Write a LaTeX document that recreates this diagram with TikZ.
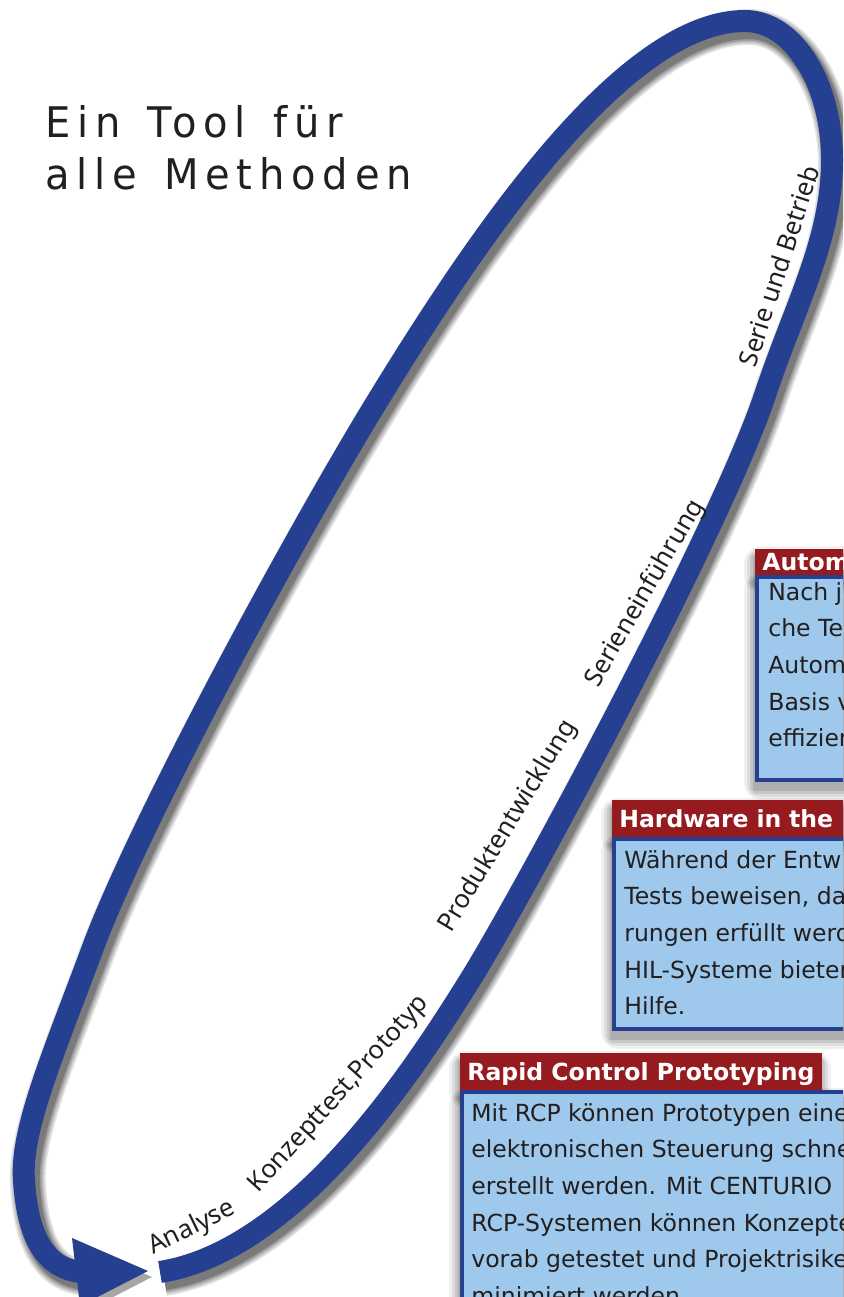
\documentclass[tikz,border=0pt]{standalone}
\usepackage{fontspec}
\setmainfont{DejaVu Sans}
\newfontfamily\labelfont{Noto Sans}
\newfontfamily\titlefont[LetterSpace=16,WordSpace=1.4,FakeStretch=0.95]{DejaVu Sans}
\usetikzlibrary{calc,backgrounds}
\definecolor{loopblue}{RGB}{38,64,145}
\definecolor{headred}{RGB}{150,27,30}
\definecolor{boxblue}{RGB}{158,201,236}
\definecolor{inkgray}{RGB}{35,31,32}

% the lifecycle loop, in pixel units
\newcommand{\looppath}{(160,1272) .. controls (300,1250) and (420,1060) .. (470,980)
  .. controls (520,900) and (720,530) .. (765,395)
  .. controls (795,305) and (832,240) .. (832,160)
  .. controls (832,83) and (793,21) .. (745,21)
  .. controls (620,21) and (470,250) .. (378,400)
  .. controls (300,527) and (140,820) .. (92,950)
  .. controls (55,1050) and (20,1130) .. (24,1180)
  .. controls (28,1245) and (50,1268) .. (80,1272)}

\begin{document}
\begin{tikzpicture}[
    x=0.02cm, y=-0.02cm,
    loopline/.style={draw=loopblue, line width=0.44cm},
    phase/.style={font=\labelfont\fontsize{14.6}{18}\selectfont, text=inkgray, inner sep=0pt, anchor=base},
    titletext/.style={font=\titlefont\fontsize{24}{29}\selectfont, text=inkgray, inner sep=0pt, anchor=base west},
    headbox/.style={fill=headred, text=white, font=\bfseries\fontsize{13.4}{16}\selectfont, inner xsep=4pt, inner ysep=5.4pt, text height=9.8pt, text depth=0pt, anchor=south west},
    bodybox/.style={draw=loopblue, line width=2.2pt, fill=boxblue, inner sep=0pt, anchor=north west},
    bodytext/.style={font=\fontsize{13.4}{16}\selectfont, text=inkgray, inner sep=0pt, anchor=base west},
]
    \clip (0,0) rectangle (843,1297);

    % Loop with soft shadow
    \foreach \w/\o in {0.72/0.1, 0.66/0.1, 0.60/0.12, 0.54/0.15, 0.48/0.2}
        \draw[line width=\w cm, black, opacity=\o, shift={(4,6)}] \looppath;
    \fill[black, opacity=0.35, shift={(4,6)}] (72,1238) -- (148,1271) -- (80,1306) -- cycle;
    \draw[loopline] \looppath;
    \fill[loopblue] (72,1238) -- (148,1271) -- (80,1306) -- cycle;

    % Phases
    \node[phase, rotate=26] (analyse) at (195,1234) {Analyse};
    \node[phase, rotate=48] (konzept) at (344,1099) {Konzepttest,Prototyp};
    \node[phase, rotate=59] (produkt) at (514,830) {Produktentwicklung};
    \node[phase, rotate=60] (einf) at (651,597) {Serieneinführung};
    \node[phase, rotate=72] (betrieb) at (788,269) {Serie und Betrieb};

    % Title
    \node[titletext] (title1) at (45,138) {Ein Tool für};
    \node[titletext] (title2) at (45,190) {alle Methoden};

    % Automatisierung
    \node[headbox, inner ysep=2.5pt] (auhead) at (755,575) {Autom};
    \node[bodybox, minimum width=3cm, minimum height=4.06cm] (aubody) at (auhead.south west) {};
    \foreach \t [count=\i from 0] in {Nach j, che Te, Autom, Basis v, effizien}
        \node[bodytext] (autxt\i) at ($(aubody.north west)+(13,25+36.7*\i)$) {\t};

    % Hardware in the loop
    \node[headbox, text width=4.9cm] (hwhead) at (612,837) {Hardware in the};
    \node[bodybox, minimum width=5.8cm, minimum height=3.8cm] (hwbody) at (hwhead.south west) {};
    \foreach \t [count=\i from 0] in {W\"ahrend der Entw, {Tests beweisen, da}, rungen erf\"ullt werd, HIL-Systeme bieten, Hilfe.}
        \node[bodytext] (hwtxt\i) at ($(hwbody.north west)+(12,31+36.7*\i)$) {\t};

    % Rapid control prototyping
    \node[headbox] (rcphead) at (460,1090) {Rapid Control Prototyping};
    \node[bodybox, minimum width=8.8cm, minimum height=5cm] (rcpbody) at (rcphead.south west) {};
    \foreach \t [count=\i from 0] in {Mit RCP können Prototypen eine, elektronischen Steuerung schne, erstellt werden. Mit CENTURIO, RCP-Systemen können Konzepte, vorab getestet und Projektrisike, minimiert werden.}
        \node[bodytext] (rcptxt\i) at ($(rcpbody.north west)+(11,31+36.7*\i)$) {\t};

    % Background and box shadows
    \begin{scope}[on background layer]
        \fill[white] (0,0) rectangle (843,1297);
        \foreach \n in {auhead,aubody,hwhead,hwbody,rcphead,rcpbody}
            \foreach \r/\o in {1/0.12, 4/0.1, 7/0.08, 10/0.06}
                \fill[black, opacity=\o, rounded corners=\r pt] ($(\n.north west)+(-1-\r,8-\r)$) rectangle ($(\n.south east)+(-1+\r,8+\r)$);
    \end{scope}
\end{tikzpicture}
\end{document}
